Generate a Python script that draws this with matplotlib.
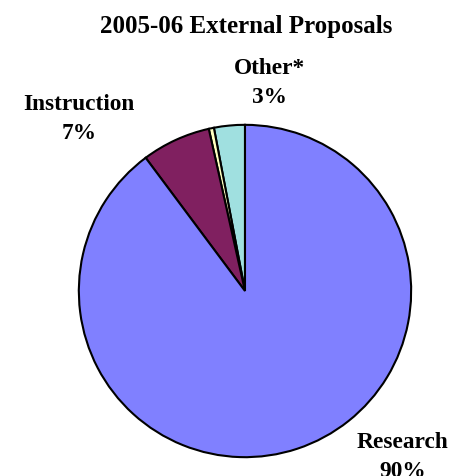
import matplotlib.pyplot as plt

# Данные диаграммы
labels = ['Other*', '', 'Instruction', 'Research']
pct_text = ['3%', '', '7%', '90%']
values = [3.0, 0.5, 6.7, 89.8]
colors = ['#A0E0E0', '#FFFFC0', '#802060', '#8080FF']

# Позиции подписей (в координатах осей пирога)
label_pos = [(0.15, 1.26), None, (-1.0, 1.04), (0.95, -0.99)]

plt.rcParams['font.family'] = ['Liberation Serif', 'DejaVu Serif']

fig = plt.figure(figsize=(4.54, 4.77), dpi=100)
fig.text(246 / 454, 1 - 27 / 477, '2005-06 External Proposals',
         ha='center', va='center', fontsize=18, fontweight='bold')

ax = fig.add_axes([78 / 454, 18 / 477, 334 / 454, 334 / 477])
ax.pie(values, colors=colors, startangle=90, counterclock=True,
       wedgeprops={'edgecolor': 'black', 'linewidth': 1.5})
ax.set_xlim(-1.005, 1.005)
ax.set_ylim(-1.005, 1.005)
ax.set_aspect('equal')

for name, pt, pos in zip(labels, pct_text, label_pos):
    if pos is None:
        continue
    ax.text(pos[0], pos[1], name + '\n' + pt, ha='center', va='center',
            fontsize=16.8, fontweight='bold', linespacing=1.5, clip_on=False)

fig.savefig('out.png', dpi=100)
